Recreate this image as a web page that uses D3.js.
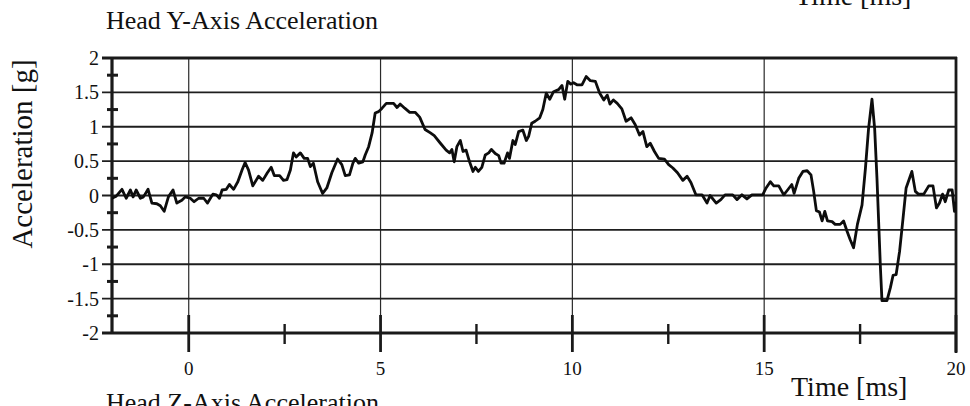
<!DOCTYPE html>
<html>
<head>
<meta charset="utf-8">
<script src="https://cdn.jsdelivr.net/npm/d3@7"></script>
<style>
  html, body { margin: 0; padding: 0; background: #fff; }
  svg { display: block; }
  text { font-family: "Liberation Serif", "Times New Roman", serif; fill: #111; }
</style>
</head>
<body>
<svg id="chart" width="970" height="406"></svg>
<script>
// ---- data ----
const chartTitle = "Head Y-Axis Acceleration";
const nextTitle = "Head Z-Axis Acceleration";
const xLabel = "Time [ms]";
const yLabel = "Acceleration [g]";

const xMajorTicks = [0, 5, 10, 15, 20];
const xMinorTicks = [2.5, 7.5, 12.5, 17.5];
const xTickLabels = ["0", "5", "10", "15", "20"];
const yMajorTicks = [-2, -1.5, -1, -0.5, 0, 0.5, 1, 1.5, 2];
const yMinorTicks = [-1.75, -1.25, -0.75, -0.25, 0.25, 0.75, 1.25, 1.75];
const yTickLabels = ["-2", "-1.5", "-1", "-0.5", "0", "0.5", "1", "1.5", "2"];

const timeMs = [
  -2.04, -1.89, -1.74, -1.63, -1.52, -1.45, -1.37, -1.26, -1.18, -1.06, -0.96, -0.83, -0.74, -0.64, -0.53, -0.41, -0.31, -0.18, -0.09,
  0.04, 0.14, 0.26, 0.39, 0.49, 0.63, 0.72, 0.80, 0.87, 0.98, 1.06, 1.17, 1.28, 1.39, 1.47, 1.56, 1.67, 1.82, 1.93,
  2.05, 2.15, 2.23, 2.37, 2.47, 2.56, 2.65, 2.73, 2.80, 2.91, 3.01, 3.10, 3.17, 3.25, 3.36, 3.49, 3.60, 3.73, 3.88, 3.99,
  4.08, 4.19, 4.28, 4.34, 4.43, 4.54, 4.60, 4.69, 4.78, 4.86, 4.95,
  5.04, 5.15, 5.34, 5.43, 5.51, 5.63, 5.76, 5.90, 6.02, 6.16, 6.30, 6.40, 6.56, 6.71, 6.80, 6.86, 6.92, 6.99,
  7.08, 7.15, 7.23, 7.32, 7.41, 7.47, 7.55, 7.64, 7.73, 7.82, 7.89, 7.99,
  8.08, 8.14, 8.22, 8.31, 8.36, 8.45, 8.51, 8.60, 8.71, 8.80, 8.86, 8.94, 9.03, 9.15, 9.23, 9.32, 9.41, 9.51, 9.64, 9.73, 9.80, 9.88, 9.96,
  10.03, 10.12, 10.25, 10.36, 10.47, 10.60, 10.71, 10.82, 10.91, 10.98, 11.07, 11.17,
  11.29, 11.40, 11.53, 11.64, 11.75, 11.84, 11.94, 12.03, 12.14, 12.25, 12.40, 12.51, 12.62, 12.74, 12.88, 12.99,
  13.09, 13.22, 13.38, 13.51, 13.59, 13.75, 13.87, 13.98, 14.18, 14.29, 14.42, 14.55, 14.68, 14.96,
  15.05, 15.16, 15.25, 15.38, 15.51, 15.61, 15.72, 15.78, 15.90, 16.01, 16.12, 16.22, 16.29, 16.36, 16.44, 16.51, 16.58, 16.65, 16.77, 16.85, 16.98,
  17.07, 17.16, 17.24, 17.33, 17.43, 17.55, 17.64, 17.72, 17.81, 17.88, 17.94,
  18.03, 18.07, 18.20, 18.29, 18.36, 18.44, 18.53, 18.62, 18.70, 18.85, 18.94,
  19.02, 19.16, 19.29, 19.40, 19.49, 19.57, 19.65, 19.72, 19.81, 19.90, 19.96, 20.0
];

const accelG = [
  -0.05, -0.01, 0.09, -0.04, 0.08, -0.02, 0.08, -0.04, -0.02, 0.09, -0.11, -0.12, -0.15, -0.23, -0.02, 0.08, -0.11, -0.07, -0.02,
  -0.04, -0.09, -0.04, -0.04, -0.11, 0.02, 0.01, -0.04, 0.08, 0.09, 0.16, 0.09, 0.20, 0.37, 0.48, 0.37, 0.14, 0.28, 0.22,
  0.33, 0.41, 0.29, 0.29, 0.22, 0.23, 0.37, 0.62, 0.56, 0.62, 0.54, 0.54, 0.42, 0.47, 0.20, 0.03, 0.11, 0.33, 0.53, 0.45,
  0.29, 0.30, 0.47, 0.54, 0.47, 0.49, 0.59, 0.71, 0.91, 1.20, 1.22,
  1.27, 1.34, 1.34, 1.28, 1.33, 1.27, 1.21, 1.21, 1.14, 0.96, 0.91, 0.87, 0.76, 0.66, 0.62, 0.67, 0.49, 0.71,
  0.80, 0.64, 0.66, 0.49, 0.35, 0.41, 0.35, 0.41, 0.59, 0.62, 0.67, 0.61,
  0.58, 0.47, 0.47, 0.62, 0.54, 0.80, 0.74, 0.93, 0.95, 0.80, 0.86, 1.05, 1.08, 1.13, 1.25, 1.49, 1.40, 1.51, 1.54, 1.60, 1.40, 1.66, 1.62,
  1.64, 1.61, 1.61, 1.73, 1.67, 1.66, 1.49, 1.39, 1.46, 1.33, 1.39, 1.34,
  1.26, 1.08, 1.13, 1.03, 0.88, 0.93, 0.71, 0.76, 0.64, 0.54, 0.53, 0.45, 0.40, 0.33, 0.22, 0.28,
  0.19, 0.01, 0.01, -0.11, 0.00, -0.11, -0.06, 0.01, 0.01, -0.06, 0.01, -0.05, 0.01, 0.01,
  0.11, 0.20, 0.14, 0.14, 0.01, 0.08, 0.16, 0.03, 0.25, 0.35, 0.36, 0.30, 0.06, -0.22, -0.24, -0.37, -0.23, -0.37, -0.38, -0.42, -0.42,
  -0.37, -0.52, -0.64, -0.76, -0.42, -0.14, 0.40, 0.97, 1.40, 0.97, 0.25,
  -1.05, -1.53, -1.53, -1.34, -1.16, -1.15, -0.81, -0.33, 0.11, 0.35, 0.06,
  0.02, 0.02, 0.14, 0.14, -0.18, -0.11, 0.02, -0.09, 0.08, 0.08, -0.23, -0.09
];

// ---- drawing ----
const svg = d3.select("#chart");
const x = d3.scaleLinear().domain([-2, 20]).range([112, 956]);
const y = d3.scaleLinear().domain([-2, 2]).range([333, 58]);
const ink = "#1a1a1a";

// vertical grid lines (thin)
svg.append("g").selectAll("line")
  .data(xMajorTicks.filter(d => d < 20))
  .join("line")
  .attr("x1", d => x(d)).attr("x2", d => x(d))
  .attr("y1", y(2)).attr("y2", y(-2))
  .attr("stroke", "#2a2a2a").attr("stroke-width", 1.2);

// horizontal grid lines, extending slightly left of the axis
svg.append("g").selectAll("line")
  .data(yMajorTicks.filter(d => d > -2 && d < 2))
  .join("line")
  .attr("x1", x(-2) - 10).attr("x2", x(20))
  .attr("y1", d => y(d)).attr("y2", d => y(d))
  .attr("stroke", "#1e1e1e").attr("stroke-width", 1.8);

// frame
svg.append("line").attr("x1", x(-2) - 10).attr("x2", x(20) + 1)
  .attr("y1", y(2)).attr("y2", y(2)).attr("stroke", ink).attr("stroke-width", 2.8);
svg.append("line").attr("x1", x(-2) - 10).attr("x2", x(20) + 1)
  .attr("y1", y(-2)).attr("y2", y(-2)).attr("stroke", ink).attr("stroke-width", 3);
svg.append("line").attr("x1", x(-2)).attr("x2", x(-2))
  .attr("y1", y(2) - 1).attr("y2", y(-2) + 1).attr("stroke", ink).attr("stroke-width", 3.2);
svg.append("line").attr("x1", x(20)).attr("x2", x(20))
  .attr("y1", y(2) - 1).attr("y2", y(-2) + 20).attr("stroke", ink).attr("stroke-width", 2.8);

// y minor ticks (cross the axis)
svg.append("g").selectAll("line")
  .data(yMinorTicks)
  .join("line")
  .attr("x1", x(-2) - 5).attr("x2", x(-2) + 6)
  .attr("y1", d => y(d)).attr("y2", d => y(d))
  .attr("stroke", ink).attr("stroke-width", 3);

// x major ticks
svg.append("g").selectAll("line")
  .data(xMajorTicks)
  .join("line")
  .attr("x1", d => x(d)).attr("x2", d => x(d))
  .attr("y1", y(-2) - 18).attr("y2", y(-2) + 19)
  .attr("stroke", ink).attr("stroke-width", 2.8);

// x minor ticks
svg.append("g").selectAll("line")
  .data(xMinorTicks)
  .join("line")
  .attr("x1", d => x(d)).attr("x2", d => x(d))
  .attr("y1", y(-2) - 9).attr("y2", y(-2) + 11)
  .attr("stroke", ink).attr("stroke-width", 2.4);

// data line
const pts = timeMs.map((t, i) => [t, accelG[i]]);
svg.append("defs").append("clipPath").attr("id", "clip")
  .append("rect").attr("x", x(-2)).attr("y", y(2) - 2)
  .attr("width", x(20) - x(-2)).attr("height", y(-2) - y(2) + 4);
svg.append("path")
  .datum(pts)
  .attr("clip-path", "url(#clip)")
  .attr("fill", "none")
  .attr("stroke", "#0d0d0d")
  .attr("stroke-width", 2.8)
  .attr("stroke-linejoin", "round")
  .attr("d", d3.line().x(d => x(d[0])).y(d => y(d[1])));

// y tick labels
svg.append("g").selectAll("text")
  .data(yMajorTicks)
  .join("text")
  .attr("x", 99).attr("y", d => y(d) + 7)
  .attr("text-anchor", "end")
  .attr("font-size", 20)
  .text((d, i) => yTickLabels[i]);

// x tick labels
svg.append("g").selectAll("text")
  .data(xMajorTicks)
  .join("text")
  .attr("x", d => x(d)).attr("y", 375)
  .attr("text-anchor", "middle")
  .attr("font-size", 19)
  .text((d, i) => xTickLabels[i]);

// axis titles
svg.append("text").attr("x", 791).attr("y", 396)
  .attr("font-size", 28).text(xLabel);
svg.append("text").attr("x", 795).attr("y", 5)
  .attr("font-size", 28).text(xLabel);
svg.append("text")
  .attr("transform", "translate(32,154) rotate(-90)")
  .attr("text-anchor", "middle")
  .attr("font-size", 29).text(yLabel);

// chart titles
svg.append("text").attr("x", 106).attr("y", 29)
  .attr("font-size", 26).text(chartTitle);
svg.append("text").attr("x", 106).attr("y", 411)
  .attr("font-size", 26).text(nextTitle);
</script>
</body>
</html>
